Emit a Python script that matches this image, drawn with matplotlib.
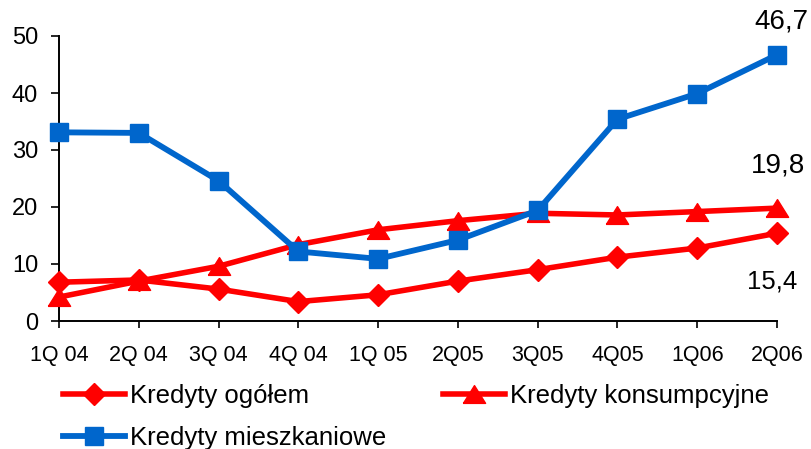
import matplotlib
matplotlib.use("Agg")
import matplotlib.pyplot as plt

plt.rcParams['font.family'] = ['Liberation Sans', 'DejaVu Sans']

categories = ["1Q 04", "2Q 04", "3Q 04", "4Q 04", "1Q 05", "2Q05", "3Q05", "4Q05", "1Q06", "2Q06"]
ogolem = [6.8, 7.2, 5.6, 3.4, 4.6, 7.0, 9.0, 11.2, 12.8, 15.4]
konsumpcyjne = [4.2, 7.0, 9.6, 13.4, 16.0, 17.6, 18.9, 18.6, 19.2, 19.8]
mieszkaniowe = [33.1, 33.0, 24.6, 12.2, 10.9, 14.2, 19.4, 35.4, 39.9, 46.7]
series_names = ["Kredyty ogółem", "Kredyty konsumpcyjne", "Kredyty mieszkaniowe"]
end_labels = ["15,4", "19,8", "46,7"]
yticks = [0, 10, 20, 30, 40, 50]

RED = "#FF0000"
BLUE = "#0066CC"
TRI = [(-1, -0.8), (1, -0.8), (0, 0.8), (-1, -0.8)]

W, H = 811, 449
fig = plt.figure(figsize=(W / 100, H / 100), dpi=100)
ax = fig.add_axes([59 / W, 1 - 321 / H, (777 - 59) / W, (321 - 36) / H])

x = list(range(len(categories)))
l1, = ax.plot(x, ogolem, color=RED, lw=4.0, marker='D', ms=11, mfc=RED, mec=RED,
              clip_on=False, zorder=3)
l2, = ax.plot(x, konsumpcyjne, color=RED, lw=4.0, marker=TRI, ms=16, mfc=RED, mec=RED,
              clip_on=False, zorder=4)
l3, = ax.plot(x, mieszkaniowe, color=BLUE, lw=4.2, marker='s', ms=13, mfc=BLUE, mec=BLUE,
              clip_on=False, zorder=5)

ax.set_xlim(0, len(categories) - 1)
ax.set_ylim(0, 50)
ax.set_yticks(yticks)
ax.set_xticks(x)
ax.set_xticklabels(categories)

for s in ['top', 'right']:
    ax.spines[s].set_visible(False)
for s in ['left', 'bottom']:
    ax.spines[s].set_linewidth(1.4)
    ax.spines[s].set_color('black')

ax.tick_params(axis='y', direction='out', length=6, width=1.2, pad=9, labelsize=17)
ax.tick_params(axis='x', direction='out', length=5, width=1.2, pad=12, labelsize=15.5)

# end labels
ax.annotate(end_labels[2], xy=(x[-1], mieszkaniowe[-1]), xytext=(3, 24),
            textcoords='offset points', ha='center', va='center', fontsize=20,
            annotation_clip=False)
ax.annotate(end_labels[1], xy=(x[-1], konsumpcyjne[-1]), xytext=(0.5, 31),
            textcoords='offset points', ha='center', va='center', fontsize=20,
            annotation_clip=False)
ax.annotate(end_labels[0], xy=(x[-1], ogolem[-1]), xytext=(-3.6, -34.5),
            textcoords='offset points', ha='center', va='center', fontsize=18.5,
            annotation_clip=False)

leg_kw = dict(frameon=False, borderpad=0, borderaxespad=0, handlelength=2.4,
              handletextpad=0.2, fontsize=18.5, numpoints=1, loc='center left')
fig.legend([l1], [series_names[0]], bbox_to_anchor=(63 / W, 1 - 396 / H), **leg_kw)
fig.legend([l2], [series_names[1]], bbox_to_anchor=(443 / W, 1 - 396 / H), **leg_kw)
fig.legend([l3], [series_names[2]], bbox_to_anchor=(63 / W, 1 - 438 / H), **leg_kw)

fig.savefig("out.png", dpi=100)
